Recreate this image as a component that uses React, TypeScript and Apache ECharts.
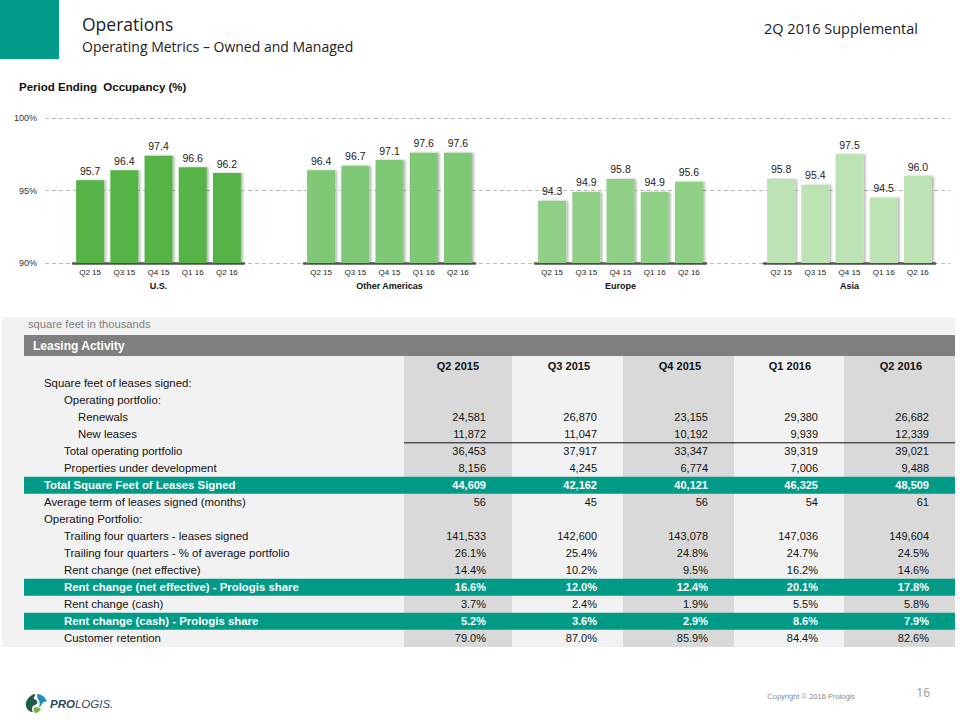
import React, { useEffect, useRef } from "react";
import * as echarts from "echarts";

// ---------- occupancy chart data ----------
const quarterTicks = ["Q2 15", "Q3 15", "Q4 15", "Q1 16", "Q2 16"];
const regionNames = ["U.S.", "Other Americas", "Europe", "Asia"];
const usOccupancy = [95.7, 96.4, 97.4, 96.6, 96.2];
const otherAmericasOccupancy = [96.4, 96.7, 97.1, 97.6, 97.6];
const europeOccupancy = [94.3, 94.9, 95.8, 94.9, 95.6];
const asiaOccupancy = [95.8, 95.4, 97.5, 94.5, 96.0];
const occupancyMin = 90;
const occupancyMax = 100;
const occupancyStep = 5;

// ---------- leasing activity table data ----------
const tableQuarters = ["Q2 2015", "Q3 2015", "Q4 2015", "Q1 2016", "Q2 2016"];
const renewals = [24581, 26870, 23155, 29380, 26682];
const newLeases = [11872, 11047, 10192, 9939, 12339];
const totalOperatingPortfolio = [36453, 37917, 33347, 39319, 39021];
const propertiesUnderDevelopment = [8156, 4245, 6774, 7006, 9488];
const totalSquareFeetSigned = [44609, 42162, 40121, 46325, 48509];
const averageTermMonths = [56, 45, 56, 54, 61];
const trailingLeasesSigned = [141533, 142600, 143078, 147036, 149604];
const trailingPctPortfolio = [26.1, 25.4, 24.8, 24.7, 24.5];
const rentChangeNetEffective = [14.4, 10.2, 9.5, 16.2, 14.6];
const rentChangeNetEffectiveShare = [16.6, 12.0, 12.4, 20.1, 17.8];
const rentChangeCash = [3.7, 2.4, 1.9, 5.5, 5.8];
const rentChangeCashShare = [5.2, 3.6, 2.9, 8.6, 7.9];
const customerRetention = [79.0, 87.0, 85.9, 84.4, 82.6];

type Row = {
  label: string;
  level: number;
  values?: number[];
  pct?: boolean;
  band?: boolean;
  underline?: boolean;
};

const rows: Row[] = [
  { label: "Square feet of leases signed:", level: 0 },
  { label: "Operating portfolio:", level: 1 },
  { label: "Renewals", level: 2, values: renewals },
  { label: "New leases", level: 2, values: newLeases, underline: true },
  { label: "Total operating portfolio", level: 1, values: totalOperatingPortfolio },
  { label: "Properties under development", level: 1, values: propertiesUnderDevelopment },
  { label: "Total Square Feet of Leases Signed", level: 0, values: totalSquareFeetSigned, band: true },
  { label: "Average term of leases signed (months)", level: 0, values: averageTermMonths },
  { label: "Operating Portfolio:", level: 0 },
  { label: "Trailing four quarters - leases signed", level: 1, values: trailingLeasesSigned },
  { label: "Trailing four quarters - % of average portfolio", level: 1, values: trailingPctPortfolio, pct: true },
  { label: "Rent change (net effective)", level: 1, values: rentChangeNetEffective, pct: true },
  { label: "Rent change (net effective) - Prologis share", level: 1, values: rentChangeNetEffectiveShare, pct: true, band: true },
  { label: "Rent change (cash)", level: 1, values: rentChangeCash, pct: true },
  { label: "Rent change (cash) - Prologis share", level: 1, values: rentChangeCashShare, pct: true, band: true },
  { label: "Customer retention", level: 1, values: customerRetention, pct: true },
];

// ---------- logo shapes ----------
echarts.graphic.registerShape(
  "logoDark",
  echarts.graphic.extendPath(
    "M 9 1 C 4 3 0 8 1 13 C 2 17 5 19 8 19 C 6 16 7 13 10 12 C 13 11 13 8 11 7 C 10 6 8 6 9 4 C 10 3 11 2 9 1 Z",
    {}
  )
);
echarts.graphic.registerShape(
  "logoBlue",
  echarts.graphic.extendPath(
    "M 12 1 C 17 1 21 5 22 9 C 20 8 18 9 17 11 C 16 13 15 14 14 14 C 15 11 15 8 13 6 C 12 4 12 2 12 1 Z",
    {}
  )
);
echarts.graphic.registerShape(
  "logoGreen",
  echarts.graphic.extendPath(
    "M 9 15 C 11 13 14 14 16 16 C 15 18 13 20 10 20 C 9 19 8 17 9 15 Z",
    {}
  )
);

const TEAL = "#009b86";
const TABLE_FONT = "Liberation Sans, Arial, sans-serif";
const TITLE_FONT = "Open Sans, Noto Sans, sans-serif";

function txt(x: number, y: number, text: string, font: string, fill: string, align = "left", z = 10) {
  return {
    type: "text",
    x,
    y,
    z,
    silent: true,
    style: { text, font, fill, align, verticalAlign: "middle" },
  };
}

function rect(x: number, y: number, w: number, h: number, fill: string, z = 1) {
  return { type: "rect", z, silent: true, shape: { x, y, width: w, height: h }, style: { fill } };
}

function buildGraphic() {
  const g: any[] = [];
  // header
  g.push(rect(0, 0, 59, 59, TEAL));
  g.push(txt(82, 24, "Operations", `17.5px ${TITLE_FONT}`, "#222"));
  g.push(txt(82, 46, "Operating Metrics \u2013 Owned and Managed", `14px ${TITLE_FONT}`, "#222"));
  g.push(txt(918, 28, "2Q 2016 Supplemental", `14.5px ${TITLE_FONT}`, "#222", "right"));
  g.push(txt(19, 87, "Period Ending  Occupancy (%)", `bold 11.5px ${TABLE_FONT}`, "#111"));

  // table panel
  const colX = [404, 512, 623, 734, 844, 955];
  g.push(rect(2, 317, 953, 330, "#f2f2f2", 0));
  g.push(txt(28, 324, "square feet in thousands", `11.2px ${TABLE_FONT}`, "#7f7f7f"));
  g.push(rect(24, 335, 931, 21, "#7f7f7f", 2));
  g.push(txt(33, 346, "Leasing Activity", `bold 12px ${TABLE_FONT}`, "#fff"));
  for (let c = 0; c < 5; c++) {
    if (c % 2 === 0) g.push(rect(colX[c], 356, colX[c + 1] - colX[c], 291, "#d9d9d9", 1));
    g.push(txt(colX[c + 1] - 33, 366, tableQuarters[c], `bold 11px ${TABLE_FONT}`, "#111", "right"));
  }
  const indents = [44, 64, 78];
  rows.forEach((r, i) => {
    const y = 383.3 + 17 * i;
    if (r.band) g.push(rect(24, y - 8.5, 931, 17, TEAL, 3));
    const color = r.band ? "#fff" : "#111";
    const labelFont = `${r.band ? "bold " : ""}11.4px ${TABLE_FONT}`;
    const valueFont = `${r.band ? "bold " : ""}11px ${TABLE_FONT}`;
    g.push(txt(indents[r.level], y, r.label, labelFont, color));
    if (r.values) {
      r.values.forEach((v, c) => {
        const s = r.pct ? v.toFixed(1) + "%" : v.toLocaleString("en-US");
        g.push(txt(colX[c + 1] - 26, y, s, valueFont, color, "right"));
      });
    }
    if (r.underline) {
      g.push({
        type: "line",
        z: 4,
        silent: true,
        shape: { x1: colX[0], y1: y + 8.5, x2: colX[5], y2: y + 8.5 },
        style: { stroke: "#111", lineWidth: 1 },
      });
    }
  });

  // footer
  g.push(txt(855, 696, "Copyright \u00a9 2016 Prologis", `7.5px ${TABLE_FONT}`, "#8a8a8a", "right"));
  g.push(txt(930, 692, "16", `12px ${TITLE_FONT}`, "#999", "right"));
  g.push({ type: "logoDark", x: 25, y: 693, z: 5, silent: true, style: { fill: "#1f5c4a" } });
  g.push({ type: "logoBlue", x: 25, y: 693, z: 5, silent: true, style: { fill: "#1b8fc0" } });
  g.push({ type: "logoGreen", x: 25, y: 693, z: 5, silent: true, style: { fill: "#77b843" } });
  g.push({
    type: "text",
    x: 50,
    y: 704,
    z: 5,
    silent: true,
    style: {
      text: "{b|PRO}{n|LOGIS.}",
      verticalAlign: "middle",
      rich: {
        b: { font: `italic bold 11.5px ${TABLE_FONT}`, fill: "#2a4a5c" },
        n: { font: `italic 11.5px ${TABLE_FONT}`, fill: "#2a4a5c" },
      },
    },
  });
  return g;
}

const regionSeries = [usOccupancy, otherAmericasOccupancy, europeOccupancy, asiaOccupancy];
const regionColors = ["#57b447", "#7fc876", "#8fd086", "#bde3b4"];

function buildOption() {
  const gridTop = 118;
  const gridHeight = 145;
  const grids: any[] = [{ left: 45, width: 905, top: gridTop, height: gridHeight }];
  const xAxes: any[] = [{ gridIndex: 0, type: "value", show: false, min: 0, max: 1 }];
  const yAxes: any[] = [
    {
      gridIndex: 0,
      type: "value",
      min: occupancyMin,
      max: occupancyMax,
      interval: occupancyStep,
      axisLine: { show: false },
      axisTick: { show: false },
      axisLabel: {
        formatter: (v: number) => v + "%",
        fontSize: 9,
        fontFamily: TABLE_FONT,
        color: "#333",
        margin: 8,
      },
      splitLine: { lineStyle: { type: [4, 3], color: "#bdbdbd", width: 1 } },
    },
  ];
  const series: any[] = [];
  const lefts = [73, 304, 535, 764];
  regionNames.forEach((name, i) => {
    const gi = i + 1;
    grids.push({ left: lefts[i], width: 171, top: gridTop, height: gridHeight });
    xAxes.push({
      gridIndex: gi,
      type: "category",
      data: quarterTicks,
      axisLine: { lineStyle: { color: "#555", width: 2.5 } },
      axisTick: { show: false },
      axisLabel: { fontSize: 8, fontFamily: TABLE_FONT, color: "#222", margin: 5 },
      name,
      nameLocation: "middle",
      nameGap: 18,
      nameTextStyle: { fontSize: 9, fontWeight: "bold", fontFamily: TABLE_FONT, color: "#111" },
    });
    yAxes.push({ gridIndex: gi, type: "value", min: occupancyMin, max: occupancyMax, show: false, splitLine: { show: false } });
    series.push({
      type: "bar",
      xAxisIndex: gi,
      yAxisIndex: gi,
      data: regionSeries[i],
      barWidth: 28,
      itemStyle: {
        color: regionColors[i],
        shadowColor: "rgba(0,0,0,0.28)",
        shadowBlur: 2,
        shadowOffsetX: 2,
        shadowOffsetY: 0,
      },
      label: {
        show: true,
        position: "top",
        distance: 4,
        fontSize: 10.5,
        fontFamily: TABLE_FONT,
        color: "#222",
        formatter: (p: any) => Number(p.value).toFixed(1),
      },
    });
  });
  return {
    animation: false,
    backgroundColor: "#fff",
    grid: grids,
    xAxis: xAxes,
    yAxis: yAxes,
    series,
    graphic: buildGraphic(),
  };
}

export default function App() {
  const ref = useRef<HTMLDivElement>(null);
  useEffect(() => {
    document.body.style.margin = "0";
    if (!ref.current) return;
    const chart = echarts.init(ref.current, undefined, { renderer: "svg" });
    chart.setOption(buildOption() as any);
    return () => chart.dispose();
  }, []);
  return (
    <div
      ref={ref}
      style={{ position: "absolute", left: 0, top: 0, width: 960, height: 720, background: "#fff" }}
    />
  );
}
